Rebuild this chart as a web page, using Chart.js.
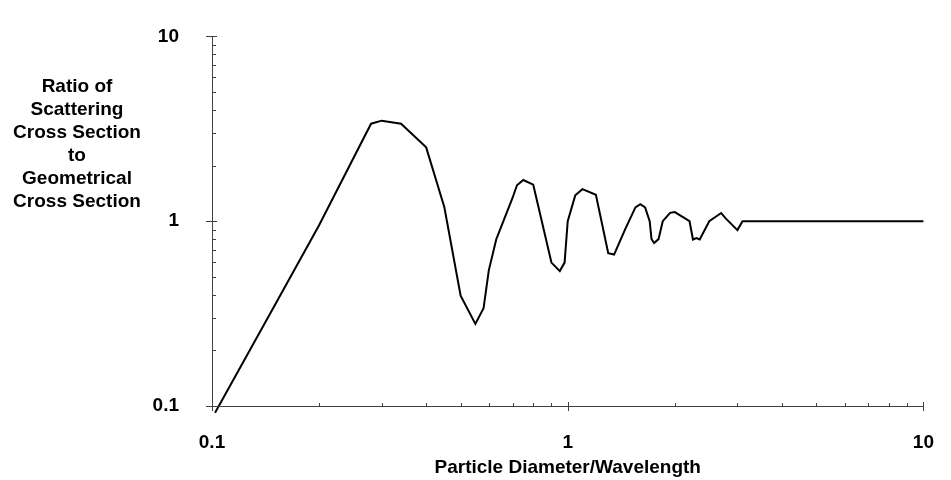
<!DOCTYPE html>
<html>
<head>
<meta charset="utf-8">
<script src="https://cdn.jsdelivr.net/npm/chart.js@4/dist/chart.umd.min.js"></script>
<style>
  body { margin: 0; background: #fff; }
  #wrap { width: 951px; height: 480px; }
</style>
</head>
<body>
<div id="wrap"><canvas id="scatterChart" width="951" height="480"></canvas></div>
<script>
// particle diameter / wavelength
const diameterRatio = [0.102, 0.15, 0.2, 0.28, 0.3, 0.34, 0.4, 0.45, 0.5, 0.55, 0.58, 0.6, 0.63,
  0.7, 0.72, 0.75, 0.8, 0.9, 0.95, 0.98, 1.0, 1.05, 1.1, 1.2, 1.3, 1.35, 1.45, 1.55, 1.6,
  1.65, 1.7, 1.72, 1.75, 1.8, 1.85, 1.94, 2.0, 2.2, 2.25, 2.3, 2.35, 2.5, 2.7, 2.78, 3.0, 3.1, 10];
// scattering / geometrical cross section
const crossSectionRatio = [0.092, 0.35, 0.95, 3.37, 3.5, 3.37, 2.51, 1.19, 0.395, 0.278, 0.338, 0.542, 0.8,
  1.34, 1.565, 1.67, 1.576, 0.597, 0.537, 0.597, 1.0, 1.38, 1.49, 1.39, 0.672, 0.66, 0.903, 1.188, 1.236,
  1.188, 1.0, 0.8, 0.762, 0.8, 1.0, 1.11, 1.12, 1.0, 0.796, 0.81, 0.796, 1.0, 1.107, 1.036, 0.895, 1.0, 1.0];

const decadeTicks = [0.1, 1, 10];
const tickLabels = ["0.1", "1", "10"];
const yTitleLines = ["Ratio of", "Scattering", "Cross Section", "to", "Geometrical", "Cross Section"];
const xTitle = "Particle Diameter/Wavelength";

const fontFamily = "'Liberation Sans', Arial, sans-serif";

function buildTicks(scale) {
  const ticks = [];
  decadeTicks.forEach((d, i) => {
    ticks.push({ value: d, major: true });
    if (i < decadeTicks.length - 1) {
      for (let m = 2; m <= 9; m++) ticks.push({ value: d * m, major: false });
    }
  });
  scale.ticks = ticks;
}

function labelFor(value) {
  const i = decadeTicks.findIndex(d => Math.abs(d - value) < 1e-9);
  return i >= 0 ? tickLabels[i] : "";
}

// axis lines + excel style tick marks (major cross, minor inside)
const axisPlugin = {
  id: "axisPlugin",
  afterDraw(chart) {
    const ctx = chart.ctx;
    const area = chart.chartArea;
    const xs = chart.scales.x;
    const ys = chart.scales.y;
    ctx.save();
    ctx.strokeStyle = "#404040";
    ctx.lineWidth = 1;
    ctx.beginPath();
    ctx.moveTo(area.left + 0.5, area.top);
    ctx.lineTo(area.left + 0.5, area.bottom + 0.5);
    ctx.lineTo(area.right, area.bottom + 0.5);
    xs.ticks.forEach(t => {
      const px = Math.round(xs.getPixelForValue(t.value)) + 0.5;
      if (t.major) {
        ctx.moveTo(px, area.bottom - 4);
        ctx.lineTo(px, area.bottom + 5);
      } else {
        ctx.moveTo(px, area.bottom - 3);
        ctx.lineTo(px, area.bottom);
      }
    });
    ys.ticks.forEach(t => {
      const py = Math.round(ys.getPixelForValue(t.value)) + 0.5;
      if (t.major) {
        ctx.moveTo(area.left - 6, py);
        ctx.lineTo(area.left + 5, py);
      } else {
        ctx.moveTo(area.left, py);
        ctx.lineTo(area.left + 4, py);
      }
    });
    ctx.stroke();

    // y axis title, centred block of lines
    ctx.fillStyle = "#000";
    ctx.font = "bold 19px " + fontFamily;
    ctx.textAlign = "center";
    ctx.textBaseline = "middle";
    yTitleLines.forEach((line, i) => {
      ctx.fillText(line, 77, 87 + i * 23);
    });
    ctx.restore();
  }
};

const points = diameterRatio.map((x, i) => ({ x: x, y: crossSectionRatio[i] }));

new Chart(document.getElementById("scatterChart"), {
  type: "line",
  data: {
    datasets: [{
      data: points,
      borderColor: "#000",
      borderWidth: 2,
      pointRadius: 0,
      tension: 0,
      fill: false,
      clip: false
    }]
  },
  options: {
    responsive: false,
    animation: false,
    events: [],
    layout: { padding: { top: 16, right: 17, left: 0, bottom: 0 } },
    plugins: {
      legend: { display: false },
      tooltip: { enabled: false }
    },
    scales: {
      x: {
        type: "logarithmic",
        min: 0.1,
        max: 10,
        afterBuildTicks: buildTicks,
        afterFit: s => { s.height = 74; },
        grid: { display: false },
        border: { display: false },
        ticks: {
          autoSkip: false,
          maxRotation: 0,
          padding: 17,
          color: "#000",
          font: { family: fontFamily, size: 19, weight: "bold" },
          callback: v => labelFor(v)
        },
        title: {
          display: true,
          text: xTitle,
          color: "#000",
          padding: { top: 0, bottom: 1 },
          font: { family: fontFamily, size: 19, weight: "bold" }
        }
      },
      y: {
        type: "logarithmic",
        min: 0.1,
        max: 10,
        afterBuildTicks: buildTicks,
        afterFit: s => { s.width = 212; },
        grid: { display: false },
        border: { display: false },
        ticks: {
          autoSkip: false,
          padding: 25,
          color: "#000",
          font: { family: fontFamily, size: 19, weight: "bold" },
          callback: v => labelFor(v)
        }
      }
    }
  },
  plugins: [axisPlugin]
});
</script>
</body>
</html>
